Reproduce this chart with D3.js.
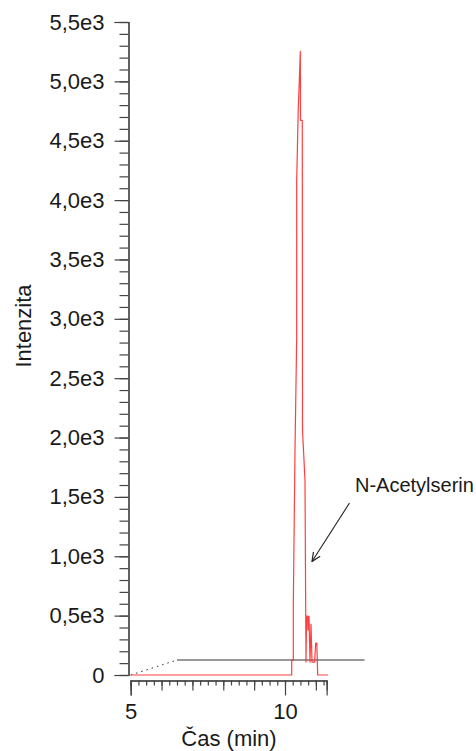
<!DOCTYPE html>
<html>
<head>
<meta charset="utf-8">
<script src="https://cdnjs.cloudflare.com/ajax/libs/d3/7.8.5/d3.min.js"></script>
<style>
  body { margin: 0; background: #fff; }
  svg text { font-family: "Liberation Sans", Arial, sans-serif; fill: #1a1a1a; }
</style>
</head>
<body>
<div class="chart"></div>
<script>
// chromatogram trace, time (min) vs intensity
const traceTime = [5.0, 10.217, 10.217, 10.27, 10.27, 10.324, 10.379, 10.379, 10.431, 10.464, 10.496, 10.502, 10.56, 10.56, 10.567, 10.648, 10.68, 10.70, 10.735, 10.745, 10.778, 10.81, 10.843, 10.875, 10.96, 10.995, 11.03, 11.06, 11.39];
const traceInt  = [0, 0, 126, 126, 600, 1894, 2845, 4167, 4781, 5008, 5253, 4672, 4672, 4604, 2062, 1641, 109, 497, 497, 379, 497, 109, 429, 109, 109, 269, 269, 0, 0];

// integration baseline (solid part) and its dotted lead-in
const baseTime = [6.5, 12.58];
const baseInt  = [126, 126];
const leadTime = [5.0, 6.5];
const leadInt  = [0, 126];

const yTicks = [0, 500, 1000, 1500, 2000, 2500, 3000, 3500, 4000, 4500, 5000, 5500];
const xTicks = [5, 10];
const annotation = 'N-Acetylserin';

const W = 476, H = 751;
const svg = d3.select('.chart').append('svg').attr('width', W).attr('height', H);

const x = d3.scaleLinear([5, 10], [130.7, 285]);
const y = d3.scaleLinear([0, 5500], [675, 22]);

// y axis
const yFmt = d => d === 0 ? '0' : d3.format('.1f')(d / 1000).replace('.', ',') + 'e3';
const yMinor = d3.axisLeft(y).tickValues(d3.range(0, 5501, 100)).tickSize(9).tickFormat('');
svg.append('g').attr('class', 'y minor').attr('transform', 'translate(128.5,0)').call(yMinor);
const yAxis = d3.axisLeft(y).tickValues(yTicks).tickSize(14).tickPadding(10).tickFormat(yFmt);
svg.append('g').attr('class', 'y axis').attr('transform', 'translate(128.5,0)').call(yAxis);

// x axis
const xg = d3.scaleLinear([5, 11.35], [x(5), x(11.35)]);
const xMinor = d3.axisBottom(xg).tickValues(d3.range(5, 11.3, 0.25)).tickSizeInner(5).tickSizeOuter(5).tickFormat('');
svg.append('g').attr('class', 'x minor').attr('transform', 'translate(0,680.5)').call(xMinor);
const xMid = d3.axisBottom(xg).tickValues([6, 7, 8, 9, 11]).tickSize(10).tickFormat('');
svg.append('g').attr('class', 'x mid').attr('transform', 'translate(0,680.5)').call(xMid);
const xAxis = d3.axisBottom(xg).tickValues(xTicks).tickSize(15).tickPadding(8).tickFormat(d3.format('d'));
svg.append('g').attr('class', 'x axis').attr('transform', 'translate(0,680.5)').call(xAxis);

svg.selectAll('.domain, .tick line').attr('stroke', '#444').attr('stroke-width', 1.2);
svg.selectAll('.tick text').style('font-size', '22px').attr('fill', '#1a1a1a');

// axis titles
svg.append('text').attr('x', 229).attr('y', 746).attr('text-anchor', 'middle')
   .style('font-size', '22px').text('Čas (min)');
svg.append('text').attr('transform', 'translate(31,326) rotate(-90)').attr('text-anchor', 'middle')
   .style('font-size', '22px').text('Intenzita');

// baseline
const line = d3.line().x(d => x(d[0])).y(d => y(d[1]));
svg.append('path').datum(d3.zip(leadTime, leadInt)).attr('d', line)
   .attr('fill', 'none').attr('stroke', '#333').attr('stroke-width', 1).attr('stroke-dasharray', '1.5,4');
svg.append('path').datum(d3.zip(baseTime, baseInt)).attr('d', line)
   .attr('fill', 'none').attr('stroke', '#777').attr('stroke-width', 1.5);

// trace
svg.append('path').datum(d3.zip(traceTime, traceInt)).attr('d', line)
   .attr('fill', 'none').attr('stroke', '#ff2a2a').attr('stroke-opacity', 0.9)
   .attr('stroke-width', 1.2).attr('stroke-linejoin', 'round');

// annotation
svg.append('defs').append('marker').attr('id', 'arr').attr('viewBox', '0 0 10 10')
   .attr('refX', 9).attr('refY', 5).attr('markerWidth', 9).attr('markerHeight', 9)
   .attr('orient', 'auto').append('path').attr('d', 'M0,1 L9,5 L0,9')
   .attr('fill', 'none').attr('stroke', '#222').attr('stroke-width', 1.2);
svg.append('line').attr('x1', 349.5).attr('y1', 503).attr('x2', 312).attr('y2', 561.5)
   .attr('stroke', '#222').attr('stroke-width', 1.1).attr('marker-end', 'url(#arr)');
svg.append('text').attr('x', 355).attr('y', 492).style('font-size', '20px').text(annotation);
</script>
</body>
</html>
